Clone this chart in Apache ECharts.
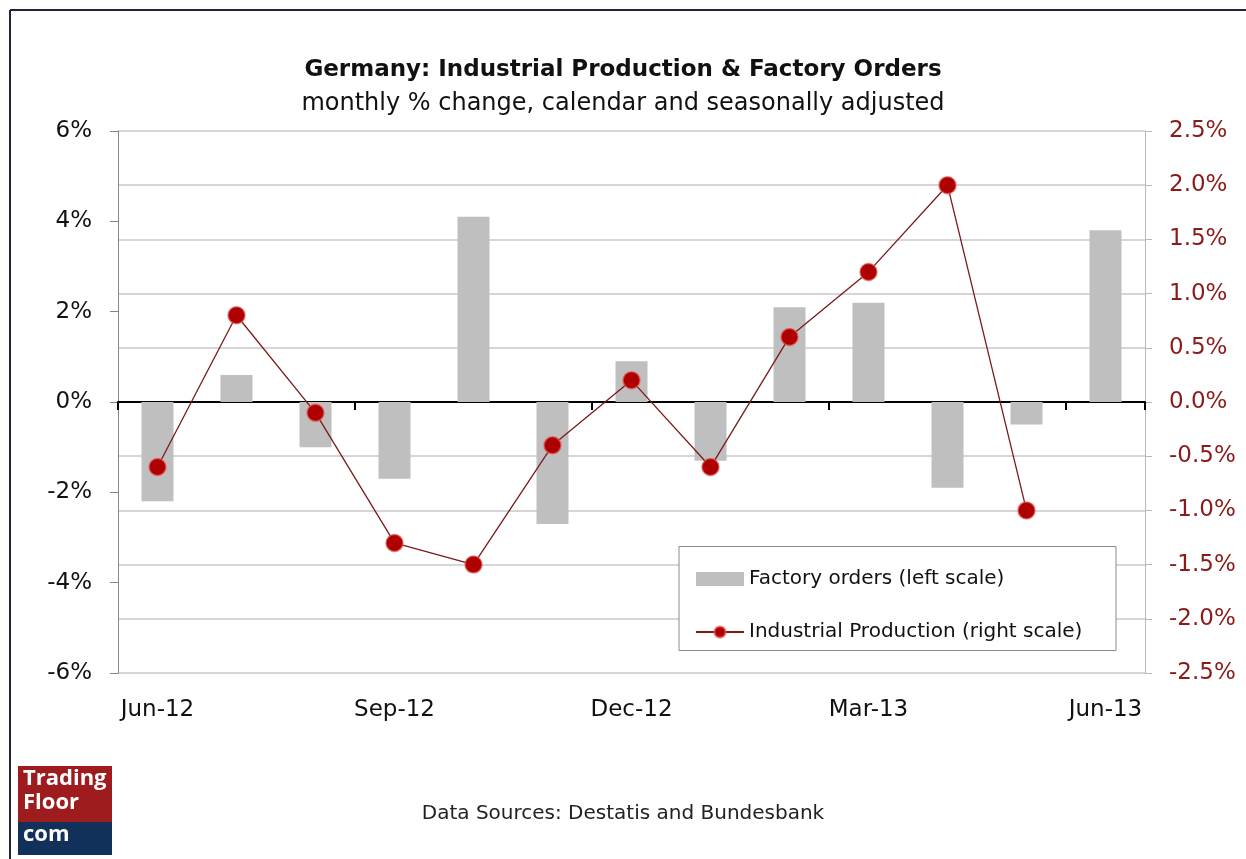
<!DOCTYPE html>
<html>
<head>
<meta charset="utf-8">
<script src="https://cdn.jsdelivr.net/npm/echarts@6/dist/echarts.min.js"></script>
<style>
html,body{margin:0;padding:0;background:#fff;}
#c{width:1246px;height:859px;}
</style>
</head>
<body>
<div id="c"></div>
<script>
const months = ['Jun-12','Jul-12','Aug-12','Sep-12','Oct-12','Nov-12','Dec-12','Jan-13','Feb-13','Mar-13','Apr-13','May-13','Jun-13'];
const factoryOrders = [-2.2, 0.6, -1.0, -1.7, 4.1, -2.7, 0.9, -1.3, 2.1, 2.2, -1.9, -0.5, 3.8];
const industrialProduction = [-0.6, 0.8, -0.1, -1.3, -1.5, -0.4, 0.2, -0.6, 0.6, 1.2, 2.0, -1.0, null];
const titleText = 'Germany: Industrial Production & Factory Orders';
const subtitleText = 'monthly % change, calendar and seasonally adjusted';
const sourceText = 'Data Sources: Destatis and Bundesbank';
const seriesNames = ['Factory orders (left scale)', 'Industrial Production (right scale)'];

const FONT = '"DejaVu Sans", Verdana, sans-serif';
const chart = echarts.init(document.getElementById('c'), null, {renderer: 'canvas'});

chart.setOption({
  backgroundColor: '#ffffff',
  animation: false,
  textStyle: {fontFamily: FONT},
  title: {
    text: titleText,
    subtext: subtitleText,
    left: 'center',
    top: 52,
    itemGap: 8,
    textStyle: {fontFamily: FONT, fontSize: 23, fontWeight: 'bold', color: '#111', lineHeight: 26},
    subtextStyle: {fontFamily: FONT, fontSize: 24, color: '#111', lineHeight: 26}
  },
  grid: {left: 118, right: 101, top: 131, bottom: 186, containLabel: false},
  legend: {
    left: 690,
    top: 563,
    orient: 'vertical',
    itemWidth: 48,
    itemHeight: 14,
    itemGap: 31,
    z: 5,
    textStyle: {fontFamily: FONT, fontSize: 20, color: '#111', lineHeight: 22},
    data: [
      {name: seriesNames[0], icon: 'rect'},
      {name: seriesNames[1]}
    ]
  },
  xAxis: [
    {
      type: 'category',
      data: months,
      position: 'bottom',
      axisLine: {show: false, onZero: false},
      axisTick: {show: false},
      splitLine: {show: false},
      axisLabel: {interval: 2, margin: 26, fontFamily: FONT, fontSize: 23, color: '#111'}
    },
    {
      type: 'category',
      data: months,
      position: 'bottom',
      axisLine: {show: true, onZero: true, onZeroAxisIndex: 0, lineStyle: {color: '#000', width: 2}},
      axisTick: {show: true, interval: 2, length: 8, lineStyle: {color: '#000', width: 2}},
      axisLabel: {show: false},
      splitLine: {show: false}
    }
  ],
  yAxis: [
    {
      type: 'value',
      position: 'left',
      min: -6, max: 6, interval: 2,
      axisLine: {show: true, lineStyle: {color: '#868686', width: 1}},
      axisTick: {show: true, length: 8, lineStyle: {color: '#868686'}},
      splitLine: {show: false},
      axisLabel: {margin: 26, fontFamily: FONT, fontSize: 23, color: '#111', formatter: v => v + '%'}
    },
    {
      type: 'value',
      position: 'right',
      min: -2.5, max: 2.5, interval: 0.5,
      axisLine: {show: true, lineStyle: {color: '#b8b8b8', width: 1}},
      axisTick: {show: true, length: 7, lineStyle: {color: '#b8b8b8'}},
      splitLine: {show: true, lineStyle: {color: '#c8c8c8', width: 1.5}},
      axisLabel: {margin: 24, fontFamily: FONT, fontSize: 23, color: '#8B1A1A', formatter: v => v.toFixed(1) + '%'}
    }
  ],
  series: [
    {
      name: seriesNames[0],
      type: 'bar',
      xAxisIndex: 0,
      yAxisIndex: 0,
      barWidth: 32,
      itemStyle: {color: '#BFBFBF'},
      data: factoryOrders,
      z: 2
    },
    {
      name: seriesNames[1],
      type: 'line',
      xAxisIndex: 0,
      yAxisIndex: 1,
      symbol: 'circle',
      symbolSize: 17,
      connectNulls: false,
      lineStyle: {color: '#7a1a1a', width: 1.3},
      itemStyle: {color: '#AE0000', borderColor: 'rgba(230,90,90,0.7)', borderWidth: 1.5},
      data: industrialProduction,
      z: 3
    }
  ],
  graphic: [
    {type: 'line', shape: {x1: 10, y1: 10, x2: 1246, y2: 10}, style: {stroke: '#22223a', lineWidth: 2}, z: 10},
    {type: 'line', shape: {x1: 10, y1: 10, x2: 10, y2: 859}, style: {stroke: '#22223a', lineWidth: 2}, z: 10},
    {type: 'rect', shape: {x: 679, y: 546.5, width: 437, height: 104}, style: {fill: '#ffffff', stroke: '#8a8a8a', lineWidth: 1}, z: 4},
    {type: 'text', left: 'center', top: 804, style: {text: sourceText, font: '20px ' + FONT, fill: '#222'}, z: 10},
    {type: 'rect', shape: {x: 18, y: 766, width: 94, height: 56}, style: {fill: '#9E1B1E'}, z: 10},
    {type: 'rect', shape: {x: 18, y: 822, width: 94, height: 33}, style: {fill: '#12315A'}, z: 10},
    {type: 'text', x: 23, y: 768, style: {text: 'Trading', font: 'bold 22px "Open Sans", sans-serif', fill: '#fff'}, z: 11},
    {type: 'text', x: 23, y: 792, style: {text: 'Floor', font: 'bold 22px "Open Sans", sans-serif', fill: '#fff'}, z: 11},
    {type: 'text', x: 23, y: 824, style: {text: 'com', font: 'bold 22px "Open Sans", sans-serif', fill: '#fff'}, z: 11}
  ]
});
</script>
</body>
</html>
